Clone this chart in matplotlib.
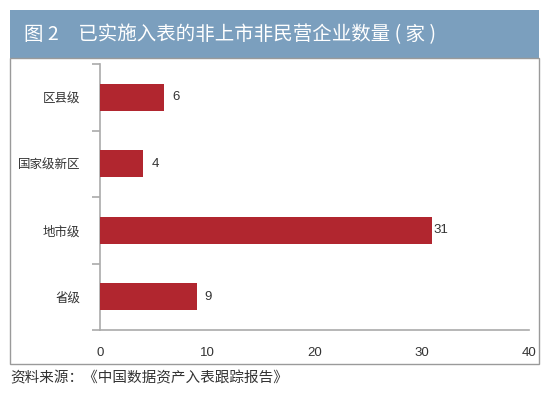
import matplotlib
matplotlib.use("Agg")
import matplotlib.pyplot as plt
from matplotlib.patches import Rectangle

plt.rcParams['font.family'] = ['Noto Sans CJK SC', 'DejaVu Sans']

categories = ["区县级", "国家级新区", "地市级", "省级"]
values = [6, 4, 31, 9]
xticks = [0, 10, 20, 30, 40]
title = "图 2　已实施入表的非上市非民营企业数量 ( 家 )"
source = "资料来源：《中国数据资产入表跟踪报告》"

W, H = 550, 398
fig = plt.figure(figsize=(W / 100, H / 100), dpi=100)
fig.patch.set_facecolor("white")

def fx(px):
    return px / W

def fy(py):
    return 1 - py / H

# title banner
fig.patches.append(Rectangle((fx(10), fy(58)), fx(539) - fx(10), fy(10) - fy(58),
                             transform=fig.transFigure, facecolor="#7b9fbe",
                             edgecolor="none", zorder=0))
fig.text(fx(24), fy(35), title, color="white", fontsize=14, va="center", ha="left")

# chart border box
fig.patches.append(Rectangle((fx(10), fy(364)), fx(539) - fx(10), fy(58) - fy(364),
                             transform=fig.transFigure, facecolor="none",
                             edgecolor="#9a9a9a", linewidth=1.0, zorder=0))

fig.text(fx(10), fy(378), source, color="#333333", fontsize=10.5, va="center", ha="left")

num_font = ['Liberation Sans', 'DejaVu Sans']

ax = fig.add_axes([fx(100), fy(330), fx(529) - fx(100), fy(64) - fy(330)])
ax.set_facecolor("none")
n = len(categories)
ypos = list(range(n))
bars = ax.barh(ypos, values, height=0.4, color="#b1262f", zorder=3)
ax.set_ylim(n - 0.5, -0.5)
ax.set_xlim(0, 40)
ax.set_xticks(xticks)
ax.set_xticklabels([str(t) for t in xticks], family=num_font)
ax.set_yticks(ypos)
ax.set_yticklabels(categories)

for b, v in zip(bars, values):
    ax.annotate(str(v), (b.get_width(), b.get_y() + b.get_height() / 2),
                xytext=(6 if v < 20 else 1, 0), textcoords="offset points",
                va="center", ha="left", fontsize=9.5, color="#333333", family=num_font)

for s in ["top", "right"]:
    ax.spines[s].set_visible(False)
for s in ["left", "bottom"]:
    ax.spines[s].set_color("#aaaaaa")
    ax.spines[s].set_linewidth(1.2)

# y ticks as boundaries between categories
ax.set_yticks([i - 0.5 for i in range(n + 1)], minor=True)
ax.tick_params(axis="y", which="major", length=0, pad=14, labelsize=9, labelcolor="#333333")
ax.tick_params(axis="y", which="minor", length=6, color="#aaaaaa", width=1.2)
ax.tick_params(axis="x", length=0, pad=12, labelsize=9.5, labelcolor="#333333")

fig.savefig("out.png", dpi=100)
